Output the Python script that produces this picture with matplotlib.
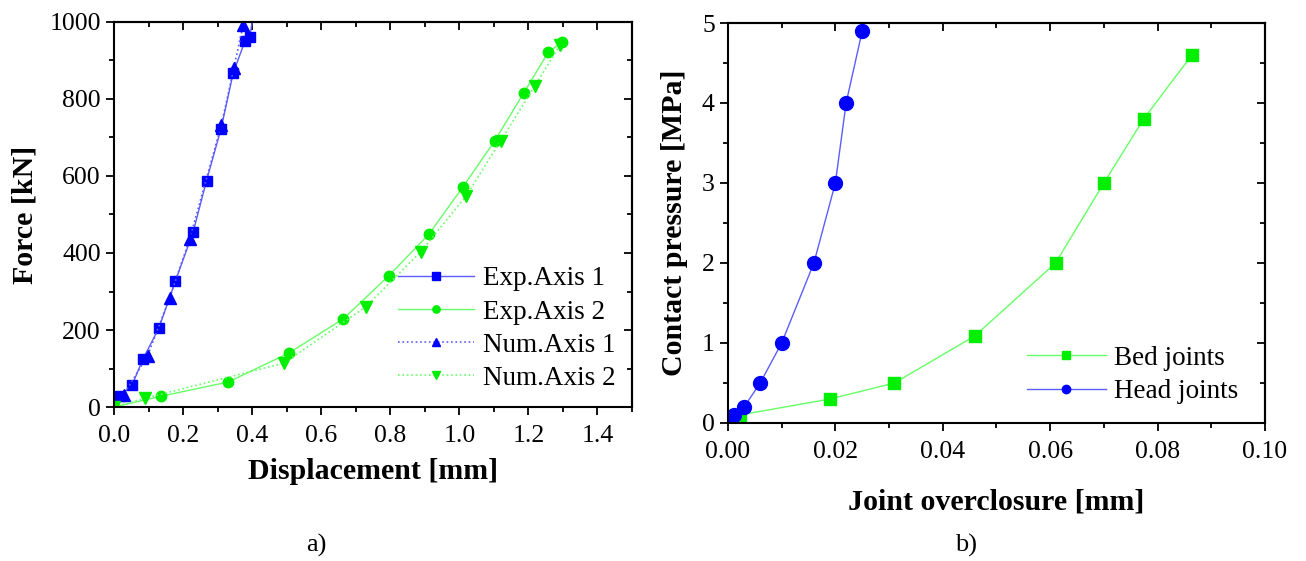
import matplotlib.pyplot as plt
from matplotlib.ticker import MultipleLocator

# a) force vs displacement
exp1_x = [0.0, 0.017, 0.052, 0.084, 0.130, 0.178, 0.229, 0.268, 0.310, 0.345, 0.379, 0.393, 0.400]
exp1_y = [0, 28, 56, 125, 205, 328, 454, 588, 723, 867, 950, 960, 1000]
exp2_x = [0.0, 0.137, 0.331, 0.506, 0.664, 0.796, 0.912, 1.010, 1.103, 1.186, 1.258, 1.297]
exp2_y = [0, 28, 65, 140, 229, 341, 449, 571, 692, 815, 922, 947]
num1_x = [0.0, 0.028, 0.097, 0.161, 0.219, 0.311, 0.347, 0.374]
num1_y = [0, 32, 133, 283, 436, 733, 880, 993]
num2_x = [0.0, 0.091, 0.492, 0.729, 0.888, 1.019, 1.120, 1.219, 1.292]
num2_y = [0, 23, 114, 260, 403, 547, 692, 834, 941]

# b) contact pressure vs overclosure
bed_x = [0.0, 0.0022, 0.019, 0.031, 0.046, 0.061, 0.070, 0.0774, 0.0864]
bed_y = [0.0, 0.1, 0.3, 0.5, 1.09, 2.0, 3.0, 3.8, 4.6]
head_x = [0.0, 0.0011, 0.003, 0.006, 0.010, 0.016, 0.020, 0.022, 0.025]
head_y = [0.0, 0.1, 0.2, 0.5, 1.0, 2.0, 3.0, 4.0, 4.9]

plt.rcParams['font.family'] = 'Liberation Serif'
BLUE_L, BLUE = '#5c5cff', '#0000ff'
GREEN_L, GREEN = '#66ff66', '#00ee00'

fig = plt.figure(figsize=(13.06, 5.61), dpi=100)
ax1 = fig.add_axes([0.0873, 0.2745, 0.3966, 0.6863])
ax2 = fig.add_axes([0.5574, 0.2460, 0.4112, 0.7130])

ax1.plot(exp1_x, exp1_y, '-s', color=BLUE_L, mfc=BLUE, mec=BLUE, ms=7.5, lw=1,
         markevery=list(range(1, 12)), label='Exp.Axis 1')
ax1.plot(exp2_x, exp2_y, '-o', color=GREEN_L, mfc=GREEN, mec=GREEN, ms=7.5, lw=1,
         label='Exp.Axis 2')
ax1.plot(num1_x, num1_y, ':^', color=BLUE_L, mfc=BLUE, mec=BLUE, ms=8, lw=1.2,
         label='Num.Axis 1')
ax1.plot(num2_x, num2_y, ':v', color=GREEN_L, mfc=GREEN, mec=GREEN, ms=8, lw=1.2,
         label='Num.Axis 2')
ax1.set_xlim(0, 1.5)
ax1.set_ylim(0, 1000)
ax1.set_xticks([0, 0.2, 0.4, 0.6, 0.8, 1.0, 1.2, 1.4])
ax1.xaxis.set_minor_locator(MultipleLocator(0.1))
ax1.yaxis.set_major_locator(MultipleLocator(200))
ax1.yaxis.set_minor_locator(MultipleLocator(100))
ax1.set_xlabel('Displacement [mm]', fontsize=21.5, fontweight='bold', labelpad=8)
ax1.set_ylabel('Force [kN]', fontsize=21.5, fontweight='bold', labelpad=8)
ax1.legend(loc='lower right', bbox_to_anchor=(1.0, 0.0), frameon=False, fontsize=19.5,
           handlelength=2.8, handletextpad=0.35, labelspacing=0.3, markerscale=0.7,
           borderaxespad=0.2)

ax2.plot(bed_x, bed_y, '-s', color=GREEN_L, mfc=GREEN, mec=GREEN, ms=9, lw=1,
         label='Bed joints')
ax2.plot(head_x, head_y, '-o', color=BLUE_L, mfc=BLUE, mec=BLUE, ms=10, lw=1,
         label='Head joints')
ax2.set_xlim(0, 0.1)
ax2.set_ylim(0, 5)
ax2.set_xticks([0, 0.02, 0.04, 0.06, 0.08, 0.10])
ax2.set_xticklabels(['0.00', '0.02', '0.04', '0.06', '0.08', '0.10'])
ax2.xaxis.set_minor_locator(MultipleLocator(0.01))
ax2.yaxis.set_major_locator(MultipleLocator(1))
ax2.yaxis.set_minor_locator(MultipleLocator(0.5))
ax2.set_xlabel('Joint overclosure [mm]', fontsize=21.5, fontweight='bold', labelpad=18)
ax2.set_ylabel('Contact pressure [MPa]', fontsize=21.5, fontweight='bold', labelpad=10)
ax2.legend(loc='lower right', bbox_to_anchor=(0.985, 0.0), frameon=False, fontsize=19.5,
           handlelength=2.9, handletextpad=0.3, labelspacing=0.3, markerscale=0.6,
           borderaxespad=0.3)

for ax in (ax1, ax2):
    for s in ax.spines.values():
        s.set_linewidth(1.5)
    ax.tick_params(which='major', direction='out', length=6, width=1.3, labelsize=18.5)
    ax.tick_params(axis='x', which='major', pad=7)
    ax.tick_params(which='minor', direction='out', length=3.5, width=1.3)
    # mirrored ticks pointing inward on the top and right
    top = ax.secondary_xaxis('top')
    top.set_xticks(ax.get_xticks())
    top.xaxis.set_minor_locator(ax.xaxis.get_minor_locator())
    top.tick_params(which='major', direction='in', length=6, width=1.3, labeltop=False)
    top.tick_params(which='minor', direction='in', length=3.5, width=1.3)
    top.spines['top'].set_linewidth(1.5)
    right = ax.secondary_yaxis('right')
    right.yaxis.set_major_locator(ax.yaxis.get_major_locator())
    right.yaxis.set_minor_locator(ax.yaxis.get_minor_locator())
    right.tick_params(which='major', direction='in', length=6, width=1.3, labelright=False)
    right.tick_params(which='minor', direction='in', length=3.5, width=1.3)
    right.spines['right'].set_linewidth(1.5)

fig.text(0.242, 0.028, 'a)', fontsize=19, ha='center', va='center')
fig.text(0.740, 0.028, 'b)', fontsize=19, ha='center', va='center')

fig.savefig('out.png', dpi=100)
